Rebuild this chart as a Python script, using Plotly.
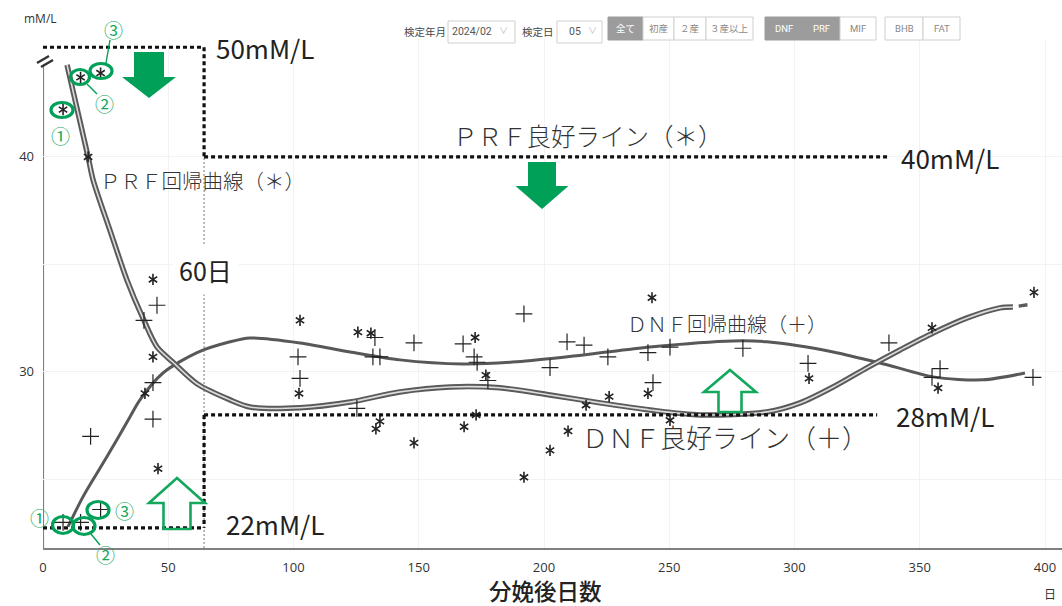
import plotly.graph_objects as go

# ---------------- data ----------------
# DNF points (+)
dnf_days = [8, 15, 23, 19, 45.5, 40.3, 43.9, 43.9, 101.8, 102.6, 132.5, 131.7, 134.5, 148.1,
            167.7, 172.1, 173.3, 177.6, 125.3, 192.0, 209.2, 216.0, 225.5, 202.4, 241.5, 250.3,
            243.5, 279.4, 305.4, 337.7, 358.1, 354.9, 395.2]
dnf_vals = [23.0, 23.0, 23.6, 27.0, 33.1, 32.4, 29.5, 27.8, 30.7, 29.7, 31.6, 30.7, 30.7, 31.35,
            31.3, 30.7, 30.45, 29.6, 28.3, 32.7, 31.4, 31.25, 30.7, 30.2, 30.9, 31.15,
            29.5, 31.1, 30.4, 31.35, 30.15, 29.75, 29.75]

# PRF points (*)
prf_days = [8, 15, 23, 18, 43.9, 43.9, 40.7, 45.9, 102.6, 102.2, 125.7, 130.9, 172.5, 176.8,
            134.5, 132.9, 172.9, 168.1, 148.1, 216.8, 226.0, 209.6, 202.4, 192.0, 241.5, 243.1,
            250.3, 305.8, 354.9, 357.3, 395.6]
prf_vals = [42.2, 43.7, 43.9, 40.0, 34.3, 30.7, 29.0, 25.5, 32.4, 29.0, 31.85, 31.8, 31.6, 29.85,
            27.7, 27.35, 28.0, 27.45, 26.7, 28.45, 28.85, 27.25, 26.35, 25.1, 29.0, 33.45,
            27.75, 29.7, 32.05, 29.25, 33.7]

# regression curves
dnf_fit_days = [10, 16.0, 25.5, 34.7, 38.7, 47.9, 61.5, 74.7, 82.6, 102.6, 122.6, 142.5, 167.7,
                189.2, 215.6, 242.3, 275.4, 289.0, 315.4, 336.9, 355.3, 375.2, 392.0]
dnf_fit_vals = [22.8, 24.2, 26.05, 27.9, 28.7, 29.95, 30.9, 31.4, 31.58, 31.35, 30.93, 30.56, 30.37,
                30.47, 30.79, 31.16, 31.44, 31.4, 30.93, 30.33, 29.77, 29.63, 29.95]

prf_fit_days = [9.6, 18.0, 20.0, 26.7, 33.5, 39.9, 45.5, 51.9, 61.5, 74.7, 82.6, 102.6, 122.6,
                142.5, 162.5, 182.4, 202.4, 222.4, 242.3, 262.3, 289.0, 302.2, 315.4, 328.9,
                342.1, 355.3, 368.9, 382.0, 387.2]
prf_fit_vals = [44.28, 40.0, 38.93, 36.6, 34.28, 32.5, 31.16, 30.45, 29.45, 28.7, 28.37, 28.33, 28.6,
                29.07, 29.3, 29.26, 28.93, 28.56, 28.23, 28.0, 28.14, 28.56, 29.3, 30.19,
                31.02, 31.81, 32.51, 32.98, 33.02]
prf_tail_days = [389.5, 393.0]
prf_tail_vals = [33.06, 33.12]

# reference lines / labels
x_ticks = [0, 50, 100, 150, 200, 250, 300, 350, 400]
y_ticks = [25, 30, 35, 40]
y_tick_text = ["", "30", "", "40"]
limit_day = 64.3            # "60日" line position
prf_upper = 45.1            # labelled 50mM/L
prf_good = 40.0             # 40mM/L
dnf_good = 28.0             # 28mM/L
dnf_lower = 22.75           # labelled 22mM/L
prf_line_end = 338.0
dnf_line_end = 333.0
y_axis_top = 44.3

# ---------------- layout helpers ----------------
W, H = 1062, 606
ML, MR, MT, MB = 43, 0, 39, 58
PW = W - ML - MR
PH = H - MT - MB
X_RANGE = [0, PW / 2.505]
Y_RANGE = [21.81, 21.81 + PH / 21.5]


def px(x):
    return (x - ML) / PW


def py(y):
    return (H - MB - y) / PH


GREEN = "#00a058"
GREEN2 = "#14a85c"
TXT = "#333333"
JP = "Noto Sans CJK JP"

fig = go.Figure()

# curves
fig.add_trace(go.Scatter(x=dnf_fit_days, y=dnf_fit_vals, mode="lines",
                         line=dict(color="#585858", width=3, shape="spline", smoothing=0.8),
                         hoverinfo="skip", showlegend=False))
fig.add_trace(go.Scatter(x=prf_fit_days, y=prf_fit_vals, mode="lines",
                         line=dict(color="#5a5a5a", width=5.5, shape="spline", smoothing=0.8),
                         hoverinfo="skip", showlegend=False))
fig.add_trace(go.Scatter(x=prf_fit_days, y=prf_fit_vals, mode="lines",
                         line=dict(color="#dcdcdc", width=1.6, shape="spline", smoothing=0.8),
                         hoverinfo="skip", showlegend=False))
fig.add_trace(go.Scatter(x=prf_tail_days, y=prf_tail_vals, mode="lines",
                         line=dict(color="#5a5a5a", width=3.5),
                         hoverinfo="skip", showlegend=False))

# points
fig.add_trace(go.Scatter(x=dnf_days, y=dnf_vals, mode="markers", name="DNF",
                         marker=dict(symbol="cross-thin", size=12, color="#222",
                                     line=dict(color="#222", width=1.2)),
                         showlegend=False))
for sym in ["y-up", "y-down"]:
    fig.add_trace(go.Scatter(x=prf_days, y=prf_vals, mode="markers", name="PRF",
                             marker=dict(symbol=sym, size=7, color="#222",
                                         line=dict(color="#222", width=1.6)),
                             showlegend=False))

shapes = []
DOT = "4px,3px"


def dline(x0, y0, x1, y1, width=3.2, color="#111", dash=DOT, ref="x"):
    shapes.append(dict(type="line", xref=ref, yref="y" if ref == "x" else "paper",
                       x0=x0, y0=y0, x1=x1, y1=y1,
                       line=dict(color=color, width=width, dash=dash), layer="above"))


# thin 60-day line
dline(limit_day, Y_RANGE[0], limit_day, prf_good, width=1, color="#777", dash="2px,2px")
# PRF good zone
dline(0, prf_upper, limit_day, prf_upper)
dline(limit_day, prf_upper, limit_day, prf_good)
dline(limit_day, prf_good, prf_line_end, prf_good)
# DNF good zone
dline(limit_day, dnf_good, dnf_line_end, dnf_good)
dline(limit_day, dnf_good, limit_day, dnf_lower)
dline(0, dnf_lower, limit_day, dnf_lower)

# y axis line
shapes.append(dict(type="line", xref="x", yref="y", x0=0, x1=0, y0=Y_RANGE[0], y1=y_axis_top,
                   line=dict(color="#808080", width=2.2), layer="below"))
# axis break marks
for dx in [0, 4]:
    shapes.append(dict(type="line", xref="paper", yref="paper",
                       x0=px(37 + dx), y0=py(63 + dx), x1=px(49 + dx), y1=py(56 + dx),
                       line=dict(color="#333", width=2.5)))


def path_px(points):
    s = "M " + " L ".join(f"{px(a):.5f},{py(b):.5f}" for a, b in points) + " Z"
    return s


# filled down arrows
def down_arrow(cx, top, shaft_w, shaft_bot, head_w, tip):
    pts = [(cx - shaft_w / 2, top), (cx + shaft_w / 2, top), (cx + shaft_w / 2, shaft_bot),
           (cx + head_w / 2, shaft_bot), (cx, tip), (cx - head_w / 2, shaft_bot),
           (cx - shaft_w / 2, shaft_bot)]
    shapes.append(dict(type="path", xref="paper", yref="paper", path=path_px(pts),
                       fillcolor=GREEN, line=dict(width=0), layer="above"))


def up_arrow(cx, bottom, shaft_w, head_base, head_w, tip):
    pts = [(cx - shaft_w / 2, bottom), (cx + shaft_w / 2, bottom), (cx + shaft_w / 2, head_base),
           (cx + head_w / 2, head_base), (cx, tip), (cx - head_w / 2, head_base),
           (cx - shaft_w / 2, head_base)]
    shapes.append(dict(type="path", xref="paper", yref="paper", path=path_px(pts),
                       fillcolor="rgba(255,255,255,0)", line=dict(color=GREEN2, width=2.6),
                       layer="above"))


down_arrow(149, 52, 30, 77, 54, 98)
down_arrow(542, 162, 28, 186, 53, 209)
up_arrow(177, 529, 27, 503, 56, 478)
up_arrow(730, 412, 23, 392, 52, 370)


# green ellipses around highlighted points
def ellipse(cx, cy, rx, ry):
    shapes.append(dict(type="circle", xref="paper", yref="paper",
                       x0=px(cx - rx), x1=px(cx + rx), y0=py(cy + ry), y1=py(cy - ry),
                       line=dict(color=GREEN, width=3.2), layer="above"))


ellipse(62, 110, 11, 7.5)
ellipse(80, 77, 9.5, 7.5)
ellipse(101, 71, 11, 7.5)
ellipse(63, 525, 10.5, 8.5)
ellipse(84, 526, 11, 8.5)
ellipse(98, 510, 11, 8.5)


def thin(x0, y0, x1, y1):
    shapes.append(dict(type="line", xref="paper", yref="paper",
                       x0=px(x0), y0=py(y0), x1=px(x1), y1=py(y1),
                       line=dict(color=GREEN, width=1.4)))


thin(87, 84, 97, 94)
thin(106, 63, 110, 40)
thin(91, 534, 100, 545)

annotations = []


def text(x, y, s, size, color=TXT, anchor="center", family=JP, bg=None, pad=1, weight=None):
    f = dict(size=size, color=color, family=family)
    if weight:
        f["weight"] = weight
    a = dict(xref="paper", yref="paper", x=px(x), y=py(y), text=s, showarrow=False,
             xanchor=anchor, yanchor="middle", font=f, borderpad=pad)
    if bg:
        a["bgcolor"] = bg
    annotations.append(a)


# circled numbers
text(60, 135, "①", 19, GREEN2)
text(104, 103, "②", 19, GREEN2)
text(113, 29, "③", 19, GREEN2)
text(39, 517, "①", 19, GREEN2)
text(105, 554, "②", 19, GREEN2)
text(124, 510, "③", 19, GREEN2)

# value labels
text(214, 47, "50mM/L", 26, "#222", "left")
text(899, 157, "40mM/L", 26, "#222", "left")
text(894, 415, "28mM/L", 26, "#222", "left")
text(224, 523, "22mM/L", 26, "#222", "left")
text(205, 270, "60日", 25, "#222", bg="white", pad=6)

text(202, 180, "ＰＲＦ回帰曲線（＊）", 20.5, weight=300)
text(588, 135, "ＰＲＦ良好ライン（＊）", 24.5, weight=300)
text(727, 323, "ＤＮＦ回帰曲線（＋）", 20, weight=300)
text(580, 436, "ＤＮＦ良好ライン（＋）", 26, anchor="left", weight=300)

text(40, 18, "mM/L", 12, "#333", family="Open Sans")
text(1050, 593, "日", 12, "#333")
text(545, 590, "分娩後日数", 22.5, "#222", weight=500)

# ---------------- toolbar ----------------
def rect(x0, y0, x1, y1, fill="white", line="#cfcfcf"):
    shapes.append(dict(type="rect", xref="paper", yref="paper",
                       x0=px(x0), x1=px(x1), y0=py(y1), y1=py(y0),
                       fillcolor=fill, line=dict(color=line, width=1)))


text(425, 32, "検定年月", 10.5, "#444")
rect(448, 21, 515, 43)
text(472, 32, "2024/02", 10.5, "#555", family="Roboto")
text(503, 31, "∨", 9, "#bbb")
text(538, 32, "検定日", 10.5, "#444")
rect(557, 21, 602, 43)
text(575, 32, "05", 10.5, "#555", family="Roboto")
text(592, 31, "∨", 9, "#bbb")

groups = [
    [(608, 643, "全て", True), (643, 674, "初産", False), (674, 706, "２産", False),
     (706, 753, "３産以上", False)],
    [(765, 803, "DNF", True), (803, 840, "PRF", True), (840, 876, "MIF", False)],
    [(885, 923, "BHB", False), (923, 960, "FAT", False)],
]
for g in groups:
    for (a, b, lab, sel) in g:
        rect(a, 17, b, 40, fill="#9c9c9c" if sel else "white",
             line="#9c9c9c" if sel else "#cfcfcf")
        text((a + b) / 2, 28.5, lab, 9.5, "white" if sel else "#888",
             family=JP if not lab.isascii() else "Roboto")

fig.update_layout(
    width=W, height=H,
    margin=dict(l=ML, r=MR, t=MT, b=MB),
    paper_bgcolor="white", plot_bgcolor="white",
    showlegend=False,
    shapes=shapes, annotations=annotations,
    xaxis=dict(range=X_RANGE, tickvals=x_ticks, showgrid=True, gridcolor="#f2f2f2",
               showline=True, linecolor="#808080", linewidth=2.2, zeroline=False, ticks="",
               ticklabelstandoff=6,
               tickfont=dict(family="Open Sans", size=13, color="#333")),
    yaxis=dict(range=Y_RANGE, tickvals=y_ticks, ticktext=y_tick_text, showgrid=True,
               gridcolor="#f2f2f2", showline=False, zeroline=False, ticks="",
               ticklabelstandoff=8,
               tickfont=dict(family="Open Sans", size=13, color="#333")),
)

fig.write_html("out.html", config={"displayModeBar": False},
               post_script="document.body.style.margin='0';document.body.style.overflow='hidden';")
